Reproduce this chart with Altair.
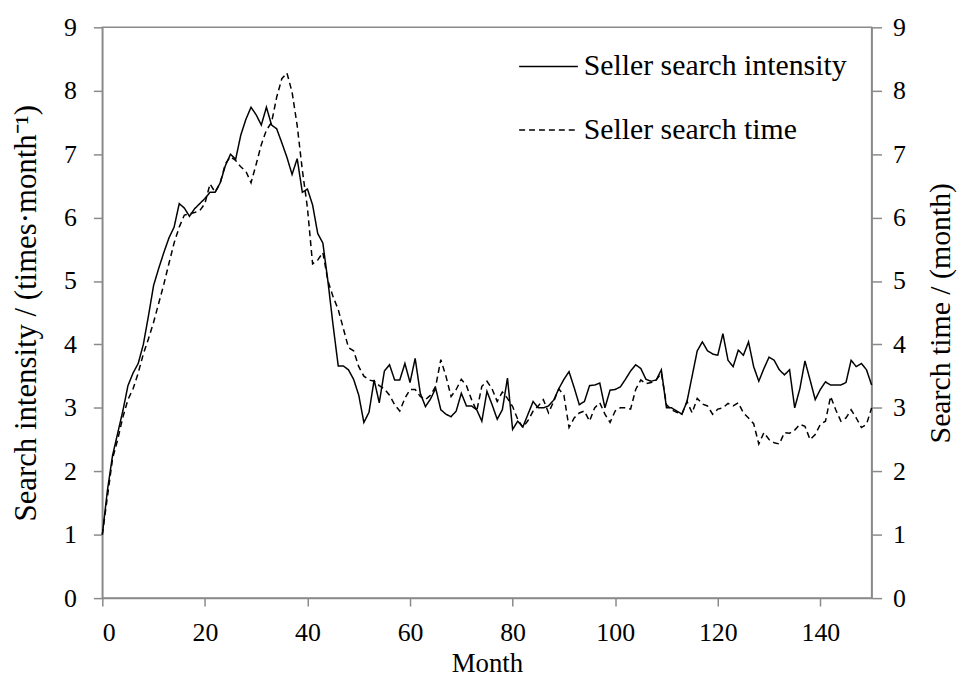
import altair as alt
import pandas as pd

months = list(range(0, 151))

search_intensity = [
    1.00, 1.70, 2.25, 2.60, 2.95, 3.35, 3.55, 3.70, 4.00, 4.45,
    4.93, 5.20, 5.45, 5.68, 5.85, 6.22, 6.15, 6.02, 6.14, 6.22,
    6.30, 6.40, 6.40, 6.55, 6.82, 7.00, 6.92, 7.30, 7.55, 7.74,
    7.62, 7.46, 7.74, 7.46, 7.40, 7.18, 6.95, 6.68, 6.93, 6.40,
    6.45, 6.20, 5.75, 5.60, 4.99, 4.30, 3.66, 3.66, 3.60, 3.45,
    3.20, 2.77, 2.93, 3.44, 3.08, 3.58, 3.68, 3.44, 3.44, 3.70,
    3.40, 3.78, 3.23, 3.02, 3.14, 3.31, 2.97, 2.90, 2.86, 2.95,
    3.23, 3.03, 3.03, 2.97, 2.79, 3.26, 3.05, 2.82, 2.97, 3.47,
    2.66, 2.79, 2.70, 2.90, 3.10, 3.00, 3.00, 3.03, 3.12, 3.30,
    3.45, 3.57, 3.32, 3.05, 3.10, 3.35, 3.36, 3.39, 3.00, 3.28,
    3.29, 3.33, 3.45, 3.58, 3.68, 3.62, 3.45, 3.42, 3.44, 3.60,
    3.00, 3.00, 2.95, 2.90, 3.10, 3.50, 3.90, 4.04, 3.90, 3.85,
    3.83, 4.17, 3.75, 3.65, 3.91, 3.83, 4.04, 3.65, 3.42, 3.62,
    3.80, 3.75, 3.60, 3.52, 3.60, 3.00, 3.30, 3.74, 3.44, 3.13,
    3.29, 3.41, 3.36, 3.36, 3.36, 3.40, 3.75, 3.65, 3.70, 3.60,
    3.36,
]

search_time = [
    1.00, 1.60, 2.20, 2.50, 2.85, 3.13, 3.30, 3.55, 3.85, 4.09,
    4.35, 4.65, 4.95, 5.28, 5.60, 5.85, 6.04, 6.06, 6.08, 6.11,
    6.22, 6.53, 6.40, 6.55, 6.85, 6.96, 6.90, 6.80, 6.73, 6.55,
    6.84, 7.15, 7.38, 7.50, 7.90, 8.19, 8.28, 7.98, 7.45, 6.75,
    6.15, 5.27, 5.33, 5.45, 5.00, 4.75, 4.55, 4.25, 3.95, 3.90,
    3.65, 3.50, 3.44, 3.42, 3.35, 3.30, 3.20, 3.05, 2.95, 3.15,
    3.29, 3.29, 3.18, 3.13, 3.20, 3.34, 3.76, 3.50, 3.18, 3.29,
    3.45, 3.35, 3.13, 2.95, 3.34, 3.42, 3.30, 3.10, 3.25, 3.15,
    3.02, 2.82, 2.69, 2.80, 2.95, 3.03, 3.13, 2.92, 3.10, 3.30,
    3.20, 2.69, 2.84, 2.92, 2.95, 2.79, 3.00, 3.08, 2.90, 2.77,
    2.95, 3.00, 3.00, 2.98, 3.29, 3.44, 3.38, 3.40, 3.44, 3.55,
    3.05, 2.97, 2.93, 2.90, 3.10, 2.92, 3.15, 3.06, 3.03, 2.90,
    2.98, 3.00, 3.07, 3.03, 3.08, 2.92, 2.84, 2.75, 2.43, 2.61,
    2.50, 2.45, 2.43, 2.61, 2.60, 2.65, 2.74, 2.71, 2.50, 2.58,
    2.74, 2.79, 3.18, 2.97, 2.79, 2.84, 2.97, 2.84, 2.69, 2.74,
    3.00,
]

series_names = ["Seller search intensity", "Seller search time"]
x_ticks = [0, 20, 40, 60, 80, 100, 120, 140]
y_ticks = [0, 1, 2, 3, 4, 5, 6, 7, 8, 9]

df_int = pd.DataFrame({"Month": months, "value": search_intensity, "series": series_names[0]})
df_time = pd.DataFrame({"Month": months, "value": search_time, "series": series_names[1]})

FONT = "Liberation Serif"
GRAY = "#8a8a8a"

dash_scale = alt.Scale(domain=series_names, range=[[1, 0], [6, 4]])

x_enc = alt.X(
    "Month:Q",
    scale=alt.Scale(domain=[0, 150], nice=False),
    axis=alt.Axis(values=x_ticks, title="Month", labelFontSize=26, titleFontSize=27,
                  labelPadding=14, titlePadding=5, tickSize=8),
)

legend = alt.Legend(
    title=None, orient="none", legendX=419, legendY=9,
    symbolType="stroke", symbolSize=3500, symbolStrokeWidth=1.5,
    symbolStrokeColor="black", labelFont=FONT, labelFontSize=30,
    labelColor="black", rowPadding=18, labelOffset=5, labelLimit=500,
)

left = alt.Chart(df_int).mark_line(color="black", strokeWidth=1.5).encode(
    x=x_enc,
    y=alt.Y(
        "value:Q",
        scale=alt.Scale(domain=[0, 9], nice=False),
        axis=alt.Axis(orient="left", values=y_ticks, title="Search intensity / (times·month⁻¹)",
                      labelFontSize=26, titleFontSize=31,
                      labelPadding=17, titlePadding=21, tickSize=9),
    ),
    strokeDash=alt.StrokeDash("series:N", scale=dash_scale, legend=legend),
)

right = alt.Chart(df_time).mark_line(color="black", strokeWidth=1.5).encode(
    x=x_enc,
    y=alt.Y(
        "value:Q",
        scale=alt.Scale(domain=[0, 9], nice=False),
        axis=alt.Axis(orient="right", values=y_ticks, title="Search time / (month)",
                      labelFontSize=26, titleFontSize=30,
                      labelPadding=11, titlePadding=20, tickSize=10, titleAngle=270,
                      titleBaseline="top"),
    ),
    strokeDash=alt.StrokeDash("series:N", scale=dash_scale, legend=legend),
)

chart = (
    alt.layer(left, right)
    .resolve_scale(y="independent", strokeDash="shared")
    .properties(
        width=775, height=575,
        padding={"left": 95, "top": 17, "right": 86, "bottom": 78},
        autosize=alt.AutoSizeParams(type="none"),
        background="white",
    )
    .configure_view(stroke=GRAY, strokeWidth=1.5)
    .configure_axis(
        labelFont=FONT, titleFont=FONT, labelColor="black", titleColor="black",
        titleFontWeight="normal", domainColor=GRAY, tickColor=GRAY,
        domainWidth=1.5, tickWidth=1.5, grid=False,
    )
)

chart.save("out.html", embed_options={"renderer": "svg", "actions": False})
